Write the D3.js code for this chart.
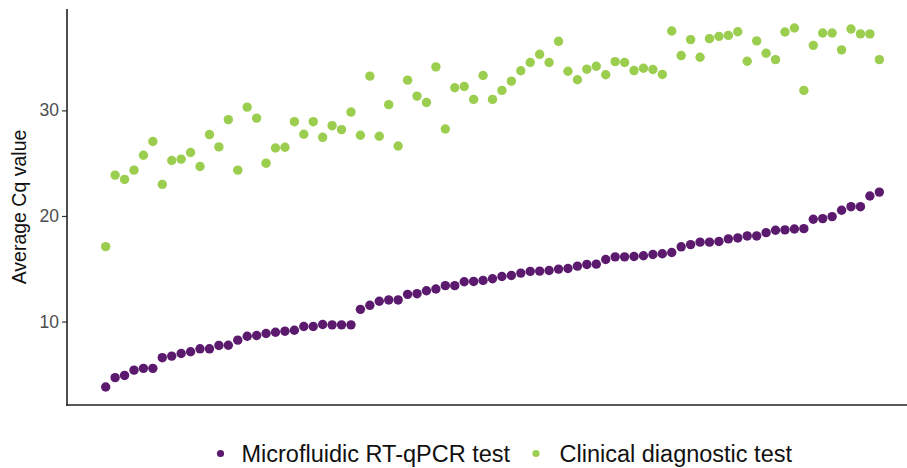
<!DOCTYPE html>
<html>
<head>
<meta charset="utf-8">
<script src="https://cdn.jsdelivr.net/npm/d3@7"></script>
<style>
  html, body { margin: 0; padding: 0; background: #fff; }
  svg { display: block; font-family: "Liberation Sans", Arial, sans-serif; }
</style>
</head>
<body>
<svg id="chart" width="907" height="468"></svg>
<script>
// samples ordered by microfluidic Cq (index = sample rank)
const microfluidic = [
  3.8, 4.69, 4.9, 5.4, 5.57, 5.57, 6.58, 6.73, 6.98, 7.14,
  7.42, 7.42, 7.74, 7.76, 8.24, 8.61, 8.68, 8.87, 8.99, 9.09,
  9.18, 9.53, 9.53, 9.72, 9.69, 9.69, 9.69, 11.16, 11.54, 11.92,
  12.05, 12.05, 12.58, 12.64, 12.92, 13.08, 13.4, 13.4, 13.77, 13.8,
  13.9, 14.06, 14.27, 14.37, 14.59, 14.75, 14.78, 14.84, 14.97, 15.03,
  15.25, 15.41, 15.44, 15.88, 16.13, 16.13, 16.16, 16.23, 16.35, 16.42,
  16.54, 17.08, 17.29, 17.52, 17.52, 17.58, 17.83, 17.92, 18.11, 18.11,
  18.42, 18.65, 18.68, 18.77, 18.8, 19.69, 19.75, 19.94, 20.54, 20.88,
  20.88, 21.89, 22.26
];
const clinical = [
  17.1, 23.87, 23.46, 24.34, 25.75, 27.05, 22.99, 25.25, 25.38, 26.01,
  24.69, 27.71, 26.54, 29.12, 24.34, 30.31, 29.27, 25.0, 26.44, 26.51,
  28.93, 27.74, 28.93, 27.45, 28.55, 28.18, 29.84, 27.64, 33.24, 27.55,
  30.54, 26.63, 32.86, 31.35, 30.75, 34.12, 28.24, 32.14, 32.26, 31.04,
  33.3, 31.04, 31.89, 32.77, 33.75, 34.53, 35.31, 34.53, 36.54, 33.71,
  32.9, 33.9, 34.18, 33.37, 34.62, 34.53, 33.77, 33.99, 33.87, 33.4,
  37.52, 35.19, 36.7, 35.03, 36.79, 37.01, 37.1, 37.45, 34.65, 36.58,
  35.41, 34.81, 37.42, 37.8, 31.89, 36.16, 37.33, 37.33, 35.73, 37.71,
  37.24, 37.24, 34.81
];
const seriesNames = ["Microfluidic RT-qPCR test", "Clinical diagnostic test"];
const seriesColors = ["#5c1a6e", "#9bce4f"];
const yTicks = [10, 20, 30];

const svg = d3.select("#chart");
const W = 907, H = 468;
const plotLeft = 67, plotBottom = 405, plotTop = 9;

const n = microfluidic.length;
const x = d3.scaleLinear().domain([-4.1, n - 1 + 4.1]).range([plotLeft, 918]);
const y = d3.scaleLinear().domain([2.1, 39.6]).range([plotBottom, plotTop]);

// y axis
const gy = svg.append("g").attr("transform", `translate(${plotLeft},0)`)
  .call(d3.axisLeft(y).tickValues(yTicks).tickSize(5).tickPadding(3).tickFormat(d3.format("d")));
gy.select(".domain").remove();
gy.selectAll(".tick line").attr("stroke", "#333").attr("stroke-width", 1.2);
gy.selectAll(".tick text").attr("fill", "#4d4d4d").attr("font-size", 17.5).attr("font-family", "Liberation Sans, Arial, sans-serif");

// axis lines
svg.append("line").attr("x1", plotLeft).attr("x2", plotLeft).attr("y1", plotTop).attr("y2", plotBottom + 0.8)
  .attr("stroke", "#222").attr("stroke-width", 1.6);
svg.append("line").attr("x1", plotLeft - 0.8).attr("x2", W).attr("y1", plotBottom).attr("y2", plotBottom)
  .attr("stroke", "#222").attr("stroke-width", 1.6);

// y title
svg.append("text")
  .attr("transform", `translate(26,${(plotTop + plotBottom) / 2}) rotate(-90)`)
  .attr("text-anchor", "middle")
  .attr("font-size", 19.5)
  .attr("fill", "#111")
  .text("Average Cq value");

// points
const pts = svg.append("g");
[microfluidic, clinical].forEach((vals, s) => {
  pts.selectAll(null).data(vals).enter().append("circle")
    .attr("cx", (d, i) => x(i))
    .attr("cy", d => y(d))
    .attr("r", 4.7)
    .attr("fill", seriesColors[s]);
});

// legend
const legendDotX = [220.5, 536];
const legendTextX = [241.5, 559.5];
const legend = svg.append("g");
seriesNames.forEach((name, s) => {
  legend.append("circle").attr("cx", legendDotX[s]).attr("cy", 453.5).attr("r", 3.6).attr("fill", seriesColors[s]);
  legend.append("text").attr("x", legendTextX[s]).attr("y", 461.5)
    .attr("font-size", 23.5).attr("fill", "#111").text(name);
});
</script>
</body>
</html>
